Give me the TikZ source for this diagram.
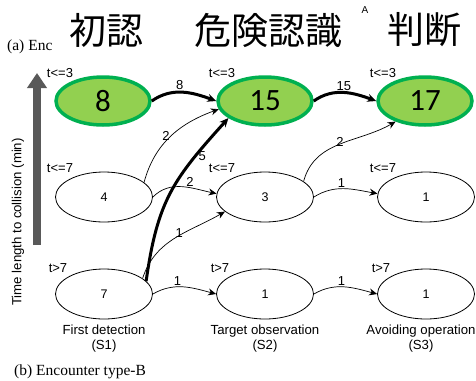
\documentclass[tikz,border=0pt]{standalone}
\usepackage{fontspec}
\setmainfont{Liberation Sans}
\newfontfamily\cjk{Noto Sans CJK JP}
\newfontfamily\serifrm{Liberation Serif}
\newfontfamily\calib{Carlito}
\usetikzlibrary{arrows.meta,shapes.geometric}
\definecolor{gfill}{HTML}{92D050}
\definecolor{gborder}{HTML}{00B050}
\definecolor{axisgray}{HTML}{595959}
\tikzset{
  greenell/.style={ellipse,draw=gborder,line width=3.5pt,fill=gfill,minimum width=94pt,minimum height=48pt,inner sep=0pt,font=\calib\fontsize{31}{31}\selectfont},
  whiteell/.style={ellipse,draw=black,line width=0.8pt,fill=white,minimum width=97pt,minimum height=50pt,inner sep=0pt,font=\fontsize{12.5}{12.5}\selectfont},
  tlab/.style={font=\fontsize{13}{13}\selectfont,inner sep=0pt},
  elab/.style={font=\fontsize{13}{13}\selectfont,inner sep=1pt},
  thinarr/.style={-{Stealth[length=8pt,width=7pt]},line width=0.7pt},
  thickarr/.style={-{Stealth[length=9pt,width=8pt]},line width=3pt},
  cjklab/.style={font=\cjk\fontsize{37}{37}\selectfont,inner sep=0pt},
  stagelab/.style={font=\fontsize{13.2}{15}\selectfont,align=center,inner sep=0pt}
}
\begin{document}
\begin{tikzpicture}[x=1pt,y=-1pt]
\useasboundingbox[fill=white] (0,0) rectangle (476,380);
% headings
\node[anchor=west,font=\serifrm\fontsize{15.5}{15.5}\selectfont,inner sep=0pt] (capa) at (7,47) {(a) Enc};
\node[cjklab] (h1) at (106,30) {初認};
\node[cjklab] (h2) at (268,30) {危険認識};
\node[cjklab] (h3) at (424,30) {判断};
\node[font=\fontsize{10}{10}\selectfont,inner sep=0pt] (smallA) at (365,10) {A};
% axis
\coordinate (axb) at (37,245);
\coordinate (axt) at (37,73);
\draw[axisgray,line width=8pt,-{Triangle[width=19pt,length=15pt]}] (axb) -- (axt);
\node[rotate=90,font=\fontsize{13.2}{13.2}\selectfont,inner sep=0pt] (axlab) at (18,222) {Time length to collision (min)};
% nodes
\node[greenell] (g1) at (103,101) {8};
\node[greenell] (g2) at (265,101) {15};
\node[greenell] (g3) at (425,101) {17};
\node[whiteell] (m1) at (104,197) {4};
\node[whiteell] (m2) at (265,197) {3};
\node[whiteell] (m3) at (426,197) {1};
\node[whiteell] (b1) at (104,294) {7};
\node[whiteell] (b2) at (265,294) {1};
\node[whiteell] (b3) at (426,294) {1};
% time labels
\node[tlab] (t1) at (60,73) {t<=3};
\node[tlab] (t2) at (222,73) {t<=3};
\node[tlab] (t3) at (383,73) {t<=3};
\node[tlab] (t4) at (60,168) {t<=7};
\node[tlab] (t5) at (222,168) {t<=7};
\node[tlab] (t6) at (383,168) {t<=7};
\node[tlab] (t7) at (58,268) {t>7};
\node[tlab] (t8) at (220,268) {t>7};
\node[tlab] (t9) at (381,268) {t>7};
% stage labels
\node[stagelab] (s1) at (104,339) {First detection\\(S1)};
\node[stagelab] (s2) at (265,339) {Target observation\\(S2)};
\node[stagelab] (s3) at (421,339) {Avoiding operation\\(S3)};
\node[anchor=west,font=\serifrm\fontsize{15.5}{15.5}\selectfont,inner sep=0pt] (capb) at (14,372) {(b) Encounter type-B};
% edges
\draw[thickarr] (g1.east) to[out=35,in=160] node[elab,above,pos=0.45] {8} (g2.west);
\draw[thickarr] (g2.east) to[out=35,in=160] node[elab,above,pos=0.5] {15} (g3.west);
\draw[thinarr] (m1.20) to[out=75,in=200] node[elab,pos=0.5,left] {2} (g2.190);
\draw[thinarr] (m1.east) to[out=45,in=168] node[elab,pos=0.62,above] {2} (m2.176);
\draw[thickarr] (b1.17) to[out=82,in=228,looseness=1.15] node[elab,pos=0.76,right=1pt] {5} (g2.205);
\draw[thinarr] (b1.22) to[out=72,in=210] node[elab,pos=0.6,left] {1} (m2.200);
\draw[thinarr] (b1.east) to[out=30,in=165] node[elab,pos=0.4,above] {1} (b2.west);
\draw[thinarr] (m2.22) to[out=75,in=210] node[elab,pos=0.55,left] {2} (g3.215);
\draw[thinarr] (m2.east) to[out=32,in=170] node[elab,pos=0.45,above] {1} (m3.176);
\draw[thinarr] (b2.east) to[out=30,in=165] node[elab,pos=0.45,above] {1} (b3.west);
\end{tikzpicture}
\end{document}
